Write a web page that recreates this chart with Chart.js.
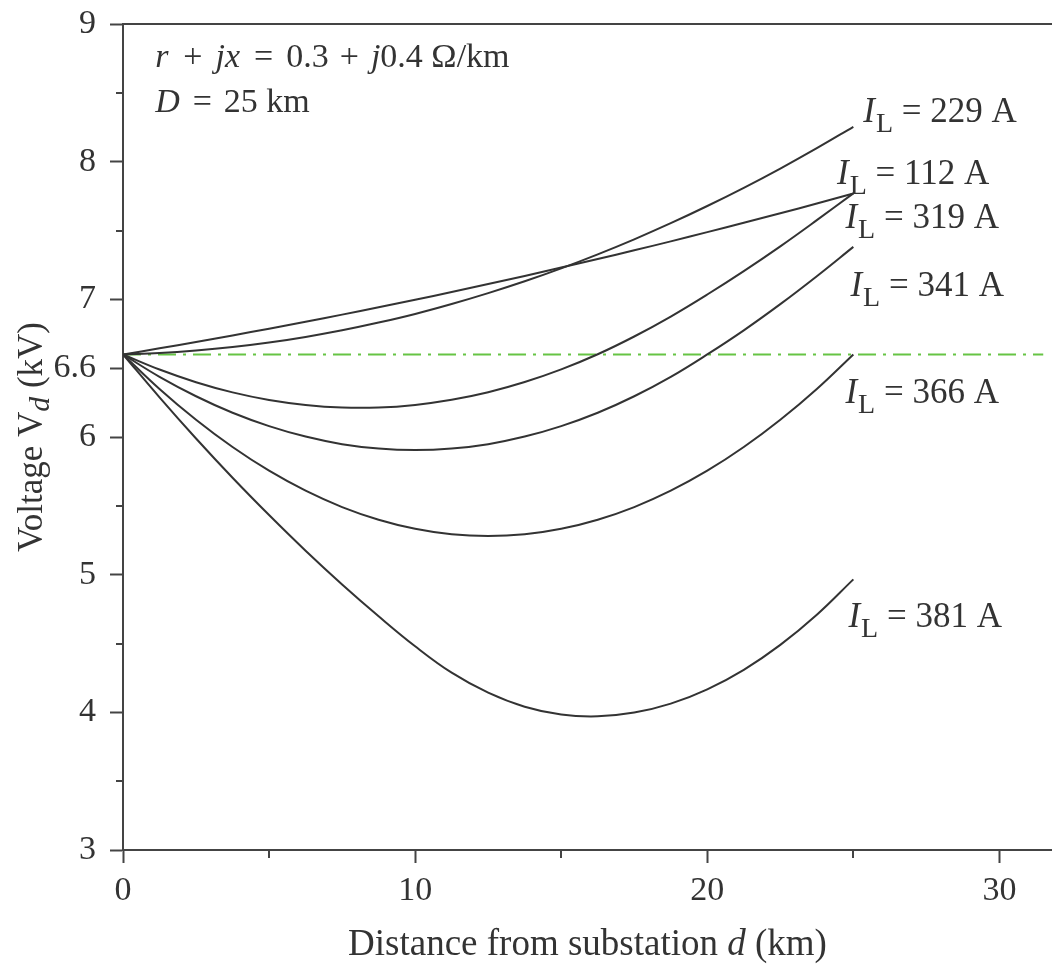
<!DOCTYPE html>
<html>
<head>
<meta charset="utf-8">
<script src="https://cdn.jsdelivr.net/npm/chart.js@4.4.1/dist/chart.umd.min.js"></script>
<style>
  html, body { margin: 0; padding: 0; background: #fff; }
  #wrap { width: 1052px; height: 967px; position: relative; }
</style>
</head>
<body>
<div id="wrap"><canvas id="chart"></canvas></div>
<script>
// distance from substation (km)
const distance = [0, 1.25, 2.5, 3.75, 5, 6.25, 7.5, 8.75, 10, 11.25, 12.5,
    13.75, 15, 16.25, 17.5, 18.75, 20, 21.25, 22.5, 23.75, 25];

// voltage V_d (kV) for each load current
const v112 = [6.600, 6.644, 6.690, 6.738, 6.787, 6.837, 6.889, 6.942, 6.997, 7.053, 7.111,
    7.170, 7.231, 7.293, 7.356, 7.421, 7.488, 7.556, 7.625, 7.696, 7.769];
const v229 = [6.600, 6.610, 6.628, 6.653, 6.686, 6.727, 6.775, 6.831, 6.894, 6.966, 7.045,
    7.131, 7.225, 7.327, 7.436, 7.553, 7.678, 7.810, 7.950, 8.098, 8.253];
const v319 = [6.600, 6.490, 6.398, 6.324, 6.269, 6.233, 6.214, 6.214, 6.233, 6.270, 6.325,
    6.399, 6.491, 6.601, 6.730, 6.875, 7.035, 7.205, 7.385, 7.575, 7.770];
const v341 = [6.600, 6.437, 6.296, 6.176, 6.079, 6.003, 5.948, 5.916, 5.905, 5.916, 5.948,
    6.003, 6.079, 6.176, 6.296, 6.437, 6.600, 6.775, 6.965, 7.168, 7.381];
const v366 = [6.600, 6.349, 6.125, 5.927, 5.755, 5.610, 5.491, 5.399, 5.333, 5.293, 5.280,
    5.293, 5.333, 5.399, 5.491, 5.610, 5.755, 5.927, 6.125, 6.349, 6.600];
const v381 = [6.600, 6.288, 5.989, 5.704, 5.433, 5.174, 4.929, 4.698, 4.480, 4.288, 4.143,
    4.041, 3.984, 3.971, 3.998, 4.063, 4.167, 4.309, 4.490, 4.709, 4.966];

const currents = [229, 112, 319, 341, 366, 381];
const series = [v229, v112, v319, v341, v366, v381];

// nominal voltage reference line
const nominalV = 6.6;
const nominalSpan = [0, 31.5];

// tick labels
const yTickLabels = { 3: '3', 4: '4', 5: '5', 6: '6', 6.5: '6.6', 7: '7', 8: '8', 9: '9' };
const xTickLabels = { 0: '0', 10: '10', 20: '20', 30: '30' };

const SERIF = '"Liberation Serif", "Times New Roman", serif';
const INK = '#333333';
const AXIS = '#444444';

// label anchors in data units (d, V)
const labelD = [25.34, 24.44, 24.73, 24.90, 24.73, 24.83];
const labelV = [8.289, 7.837, 7.515, 7.023, 6.246, 4.617];

function toPoints(xs, ys) {
    return xs.map((x, i) => ({ x: x, y: ys[i] }));
}

function richWidth(ctx, parts, size) {
    let w = 0;
    parts.forEach(p => {
        const s = p.sub ? size * p.sub : size;
        ctx.font = `${p.it ? 'italic ' : ''}${s}px ${SERIF}`;
        w += ctx.measureText(p.t).width + (p.gap || 0);
    });
    return w;
}

function drawRich(ctx, x, y, parts, size) {
    let cx = x;
    parts.forEach(p => {
        const s = p.sub ? size * p.sub : size;
        ctx.font = `${p.it ? 'italic ' : ''}${s}px ${SERIF}`;
        const dy = p.sub ? (p.dy || size * 0.28) : 0;
        ctx.fillText(p.t, cx, y + dy);
        cx += ctx.measureText(p.t).width + (p.gap || 0);
    });
}

const decorPlugin = {
    id: 'decor',
    afterDraw(chart) {
        const ctx = chart.ctx;
        const area = chart.chartArea;
        const xs = chart.scales.x;
        const ys = chart.scales.y;
        ctx.save();

        // top frame line
        ctx.strokeStyle = AXIS;
        ctx.lineWidth = 2;
        ctx.beginPath();
        ctx.moveTo(area.left, area.top);
        ctx.lineTo(area.right, area.top);
        ctx.stroke();

        // minor ticks
        ctx.beginPath();
        [3.5, 4.5, 5.5, 7.5, 8.5].forEach(v => {
            const py = Math.round(ys.getPixelForValue(v));
            ctx.moveTo(area.left - 7, py);
            ctx.lineTo(area.left, py);
        });
        [5, 15, 25].forEach(v => {
            const px = Math.round(xs.getPixelForValue(v));
            ctx.moveTo(px, area.bottom);
            ctx.lineTo(px, area.bottom + 8);
        });
        ctx.stroke();

        ctx.fillStyle = INK;
        ctx.textBaseline = 'alphabetic';
        ctx.textAlign = 'left';

        // curve labels
        currents.forEach((c, i) => {
            const px = xs.getPixelForValue(labelD[i]);
            const py = ys.getPixelForValue(labelV[i]);
            drawRich(ctx, px, py, [
                { t: 'I', it: true, gap: 1 },
                { t: 'L', sub: 0.8, dy: 10 },
                { t: ' = ' + c + ' A' }
            ], 35);
        });

        // parameters box
        const tx = xs.getPixelForValue(1.1);
        drawRich(ctx, tx, ys.getPixelForValue(8.688), [
            { t: 'r', it: true, gap: 15 },
            { t: '+', gap: 13 },
            { t: 'jx', it: true, gap: 14 },
            { t: '=', gap: 13 },
            { t: '0.3', gap: 11 },
            { t: '+', gap: 12 },
            { t: 'j', it: true },
            { t: '0.4 Ω/km' }
        ], 34);
        drawRich(ctx, tx, ys.getPixelForValue(8.36), [
            { t: 'D', it: true, gap: 13 },
            { t: '=', gap: 12 },
            { t: '25 km' }
        ], 34);

        // x axis title
        const xParts = [{ t: 'Distance from substation ' }, { t: 'd', it: true }, { t: ' (km)' }];
        const xw = richWidth(ctx, xParts, 37);
        drawRich(ctx, (area.left + area.right) / 2 - xw / 2, 955, xParts, 37);

        // y axis title
        const yParts = [{ t: 'Voltage V' }, { t: 'd', it: true, sub: 0.85, dy: 7 }, { t: ' (kV)' }];
        const yw = richWidth(ctx, yParts, 35);
        ctx.translate(42, (area.top + area.bottom) / 2);
        ctx.rotate(-Math.PI / 2);
        drawRich(ctx, -yw / 2, 0, yParts, 35);

        ctx.restore();
    }
};

const datasets = series.map((vals, i) => ({
    label: 'I_L = ' + currents[i] + ' A',
    data: toPoints(distance, vals),
    borderColor: INK,
    borderWidth: 2,
    pointRadius: 0,
    tension: 0.4,
    fill: false
}));

datasets.push({
    label: 'nominal',
    data: toPoints(nominalSpan, [nominalV, nominalV]),
    borderColor: '#66c444',
    borderWidth: 2,
    borderDash: [18, 7, 3, 7],
    pointRadius: 0,
    fill: false
});

new Chart(document.getElementById('chart'), {
    type: 'line',
    data: { datasets: datasets },
    options: {
        responsive: true,
        maintainAspectRatio: false,
        animation: false,
        layout: { padding: { top: 24, right: 0, left: 0, bottom: 0 } },
        plugins: {
            legend: { display: false },
            tooltip: { enabled: false }
        },
        scales: {
            x: {
                type: 'linear',
                min: 0,
                max: 31.8,
                afterFit: (scale) => { scale.height = 117; },
                border: { display: true, color: AXIS, width: 2 },
                grid: {
                    drawOnChartArea: false,
                    drawTicks: true,
                    tickLength: 13,
                    tickWidth: 2,
                    tickColor: (c) => (c.tick && xTickLabels[c.tick.value] !== undefined) ? AXIS : 'rgba(0,0,0,0)'
                },
                ticks: {
                    stepSize: 5,
                    includeBounds: false,
                    autoSkip: false,
                    maxRotation: 0,
                    padding: 8,
                    color: INK,
                    font: { family: SERIF, size: 34 },
                    callback: (v) => xTickLabels[v] !== undefined ? xTickLabels[v] : ''
                }
            },
            y: {
                type: 'linear',
                min: 3,
                max: 9,
                afterFit: (scale) => {
                    scale.width = 123;
                    scale.paddingTop = 0;
                    scale.paddingBottom = 0;
                },
                border: { display: true, color: AXIS, width: 2 },
                grid: {
                    drawOnChartArea: false,
                    drawTicks: true,
                    tickLength: 13,
                    tickWidth: 2,
                    tickColor: (c) => (c.tick && yTickLabels[c.tick.value] !== undefined) ? AXIS : 'rgba(0,0,0,0)'
                },
                ticks: {
                    stepSize: 0.5,
                    autoSkip: false,
                    padding: 14,
                    color: INK,
                    font: { family: SERIF, size: 34 },
                    callback: (v) => yTickLabels[v] !== undefined ? yTickLabels[v] : ''
                }
            }
        }
    },
    plugins: [decorPlugin]
});
</script>
</body>
</html>
